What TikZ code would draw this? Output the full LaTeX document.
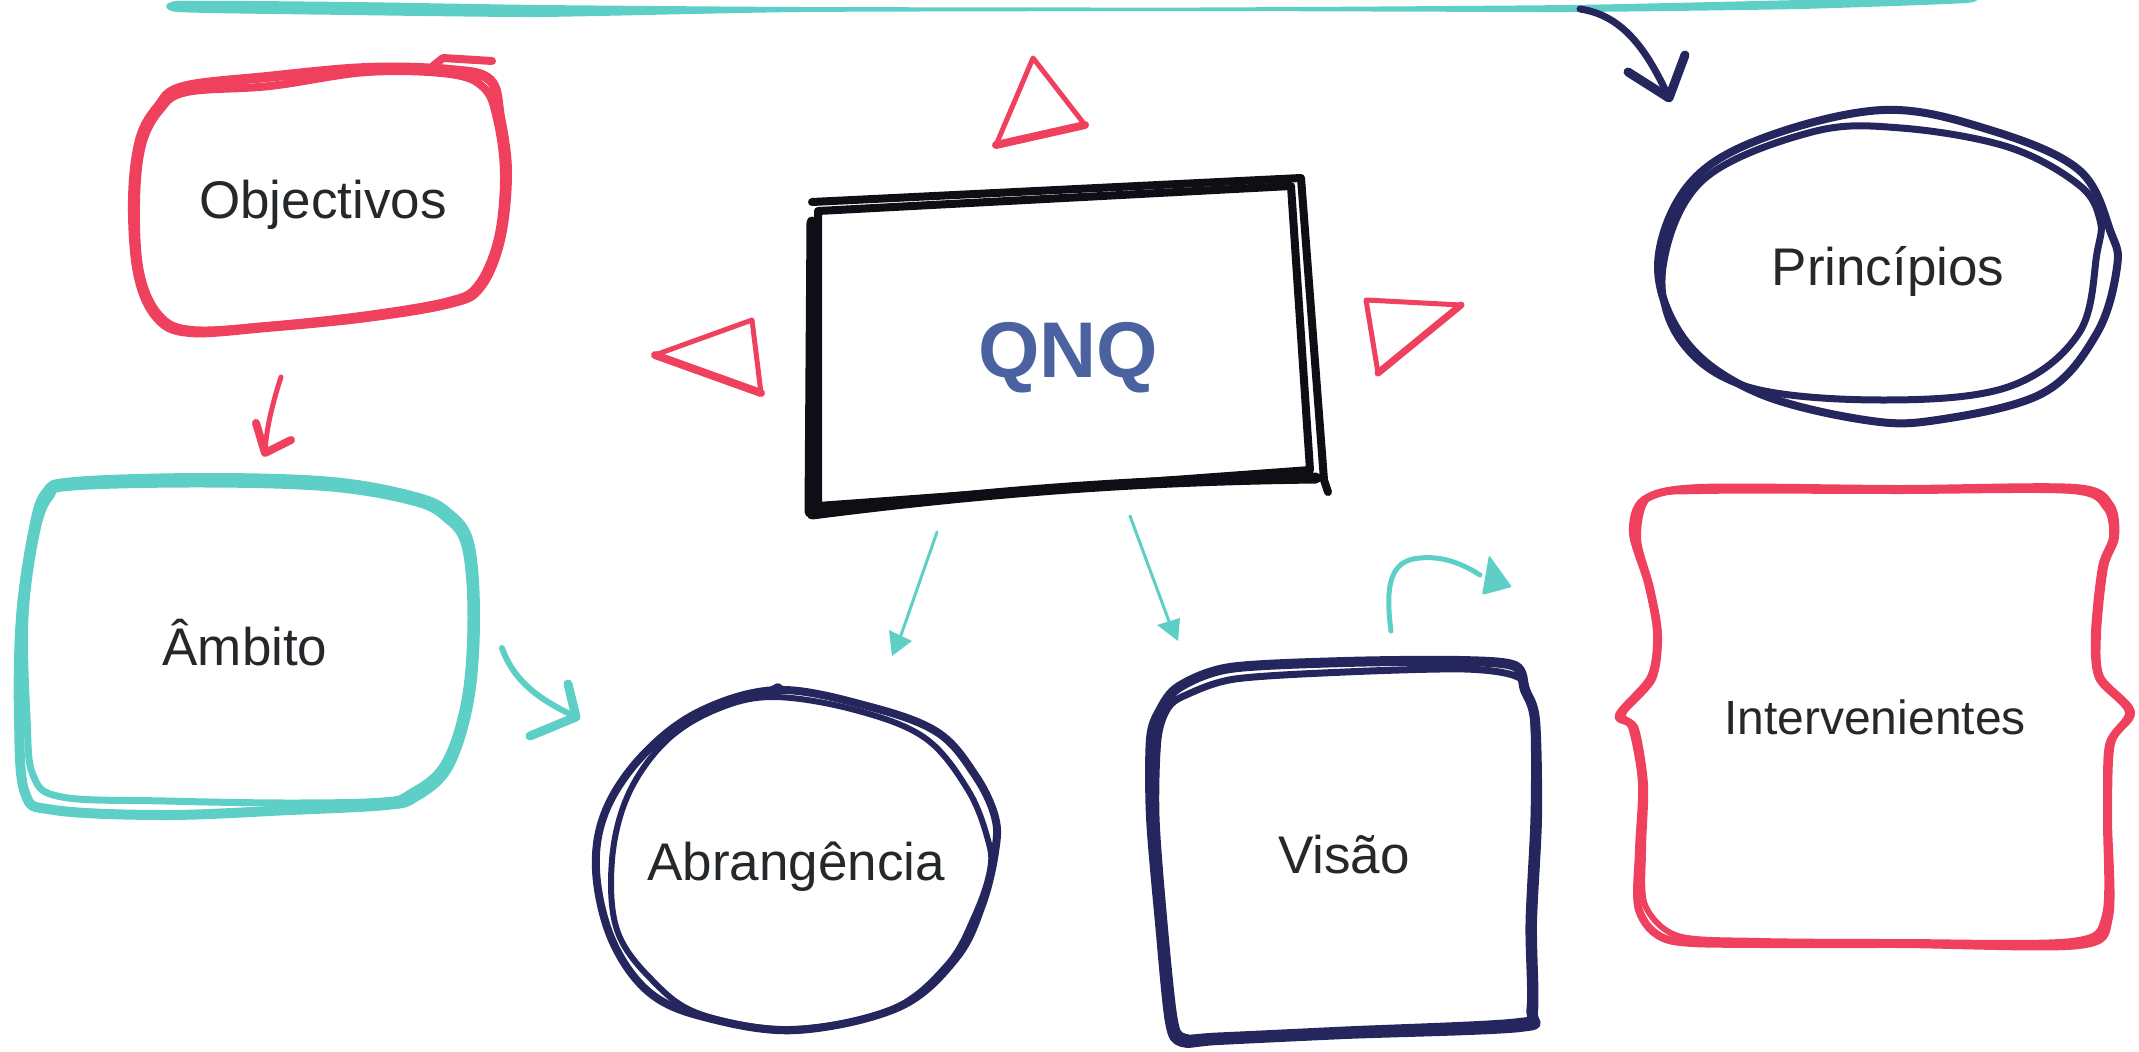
\documentclass[tikz,border=0pt]{standalone}
\usepackage{fontspec}
\setmainfont{Liberation Sans}
\definecolor{cRed}{RGB}{239,64,94}
\definecolor{cTeal}{RGB}{94,207,198}
\definecolor{cNavy}{RGB}{38,38,94}
\definecolor{cBlack}{RGB}{14,14,20}
\definecolor{cText}{RGB}{37,40,43}
\definecolor{cBlue}{RGB}{74,99,160}
\begin{document}
\begin{tikzpicture}[x=1pt,y=-1pt,
  brush/.style={line cap=round,line join=round},
  lbl/.style={text=cText,font=\fontsize{53}{60}\selectfont,inner sep=0pt,anchor=base},
]
\useasboundingbox (0,0) rectangle (2139,1052);

% ---------- top teal stroke ----------
\fill[cTeal] plot[smooth cycle,tension=0.3] coordinates {(177,1) (350,2) (540,5) (800,7) (1200,7.5) (1570,5) (1800,0) (1967,-4) (1967,3) (1800,9) (1570,12) (1200,11) (800,12) (540,17) (350,15) (177,12)};

% ---------- Objectivos ----------
\draw[brush,cRed,line width=10] plot[smooth cycle,tension=0.6] coordinates {(158,107) (140,140) (133,200) (138,273) (157,317) (190,332) (267,327) (367,317) (450,303) (480,287) (500,240) (507,173) (500,117) (490,80) (450,70) (367,68) (267,77) (183,87)};
\draw[brush,cRed,line width=8] plot[smooth cycle,tension=0.6] coordinates {(160,110) (142,145) (136,203) (140,272) (159,315) (192,330) (268,326) (368,315) (449,301) (478,285) (498,238) (504,174) (497,119) (484,88) (450,74) (367,72) (270,86) (187,92)};
\draw[brush,cRed,line width=8] (433,66) -- (443,58) -- (492,61);
\node[lbl] (obj) at (323,218) {Objectivos};

% ---------- Âmbito ----------
\draw[brush,cTeal,line width=10] plot[smooth cycle,tension=0.6] coordinates {(75,482) (207,478) (332,482) (415,497) (448,513) (469,543) (475,617) (469,700) (448,767) (415,797) (386,805) (290,810) (166,815) (54,810) (25,793) (19,717) (21,617) (33,533) (46,493)};
\draw[brush,cTeal,line width=7] plot[smooth cycle,tension=0.6] coordinates {(73,487) (207,484) (331,488) (413,502) (445,518) (465,546) (471,617) (465,700) (444,764) (410,793) (383,801) (290,803) (166,801) (62,797) (33,775) (27,717) (25,617) (36,534) (50,497)};
\node[lbl] (amb) at (245,665) {Âmbito};

% ---------- Abrangência ----------
\draw[brush,cNavy,line width=8] plot[smooth cycle,tension=0.6] coordinates {(778,690) (867,706) (937,732) (975,775) (995,817) (995,852) (982,905) (956,958) (899,1007) (797,1030) (708,1018) (650,993) (612,940) (596,870) (606,810) (644,754) (701,711)};
\draw[brush,cNavy,line width=6] plot[smooth cycle,tension=0.6] coordinates {(773,697) (855,710) (925,738) (968,790) (988,840) (990,870) (975,915) (947,965) (890,1010) (790,1029) (700,1014) (652,980) (617,930) (612,860) (628,795) (665,742) (715,710)};
\draw[brush,cNavy,line width=6] (765,693) -- (778,686) -- (783,690);
\node[lbl] (abr) at (796,880) {Abrangência};

% ---------- Visão ----------
\draw[brush,cNavy,line width=10] plot[smooth cycle,tension=0.5] coordinates {(1179,687) (1230,668) (1345,662) (1460,661) (1515,666) (1525,690) (1535,720) (1537,817) (1532,923) (1533,1011) (1520,1027) (1345,1034) (1218,1040) (1182,1042) (1170,1022) (1160,923) (1151,817) (1151,739) (1160,711)};
\draw[brush,cNavy,line width=7] plot[smooth cycle,tension=0.5] coordinates {(1186,695) (1235,679) (1345,672) (1465,669) (1518,677) (1529,700) (1534,725) (1534,817) (1529,923) (1530,1008) (1515,1022) (1345,1030) (1218,1036) (1184,1037) (1174,1018) (1164,923) (1156,817) (1158,739) (1168,708)};
\node[lbl] (vis) at (1344,873) {Visão};

% ---------- Princípios ----------
\draw[brush,cNavy,line width=8] plot[smooth cycle,tension=0.6] coordinates {(1658,267) (1687,187) (1758,140) (1883,110) (1990,130) (2079,170) (2111,233) (2117,267) (2097,333) (2043,393) (1937,420) (1865,420) (1758,393) (1687,343)};
\draw[brush,cNavy,line width=7] plot[smooth cycle,tension=0.6] coordinates {(1663,267) (1703,180) (1812,132) (1901,128) (2008,147) (2079,185) (2100,220) (2097,253) (2079,333) (2008,387) (1883,400) (1748,387) (1680,340)};
\node[lbl] (pri) at (1888,285) {Princípios};

% ---------- Intervenientes ----------
\draw[brush,cRed,line width=8] plot[smooth cycle,tension=0.5] coordinates {(1644,500) (1633,533) (1648,583) (1657,633) (1651,677) (1619,715) (1632,727) (1642,783) (1639,850) (1639,910) (1669,940) (1760,944) (1900,944) (2079,945) (2109,917) (2108,817) (2111,743) (2131,712) (2100,677) (2097,633) (2104,567) (2115,537) (2110,505) (2075,488) (1900,489) (1700,488)};
\draw[brush,cRed,line width=6] plot[smooth cycle,tension=0.5] coordinates {(1649,497) (1638,538) (1651,588) (1659,635) (1653,679) (1623,714) (1636,729) (1645,785) (1643,850) (1645,905) (1678,936) (1760,941) (1900,942) (2072,941) (2105,915) (2106,817) (2108,745) (2128,712) (2098,678) (2094,633) (2101,567) (2112,537) (2106,508) (2072,491) (1900,491) (1700,491)};
\node[lbl,font=\fontsize{48}{56}\selectfont] (int) at (1875,734) {Intervenientes};

% ---------- QNQ ----------
\draw[brush,cBlack,line width=8] (818,211) -- (1291,186) -- (1310,470) -- (818,506) -- cycle;
\draw[brush,cBlack,line width=8] (812,202) -- (1301,178) -- (1324,480) -- (1328,492);
\draw[brush,cBlack,line width=11] (812,222) -- (810,512);
\draw[brush,cBlack,line width=11] (812,514) .. controls (1000,490) and (1150,480) .. (1316,478);
\node[inner sep=0pt,anchor=base,text=cBlue,font=\fontsize{79}{90}\selectfont\bfseries] (qnq) at (1068,377) {QNQ};

% ---------- red triangles ----------
\draw[brush,cRed,line width=5] (1033,58) -- (1085,125) -- (996,145) -- cycle;
\draw[brush,cRed,line width=8] (996,145) -- (1085,125);
\draw[brush,cRed,line width=5] (655,355) -- (752,320) -- (761,393) -- cycle;
\draw[brush,cRed,line width=8] (655,355) -- (761,393);
\draw[brush,cRed,line width=5] (1366,300) -- (1461,305) -- (1378,373) -- cycle;
\draw[brush,cRed,line width=7] (1461,305) -- (1378,373);

% ---------- arrows ----------
% navy from top stroke to Princípios
\coordinate (nS) at (1580,9);
\coordinate (nT) at (1669,98);
\coordinate (nB1) at (1628,72);
\coordinate (nB2) at (1685,55);
\draw[brush,cNavy,line width=7] (nS) .. controls (1620,15) and (1645,45) .. (nT);
\draw[brush,cNavy,line width=9] (nB1) -- (nT) -- (nB2);

% red below Objectivos
\coordinate (rS) at (281,377);
\coordinate (rT) at (265,453);
\coordinate (rB1) at (256,423);
\coordinate (rB2) at (291,440);
\draw[brush,cRed,line width=5] (rS) .. controls (272,405) and (266,430) .. (rT);
\draw[brush,cRed,line width=8] (rB1) -- (rT) -- (rB2);

% teal from Âmbito
\coordinate (tS) at (502,648);
\coordinate (tT) at (576,717);
\coordinate (tB1) at (568,684);
\coordinate (tB2) at (530,736);
\draw[brush,cTeal,line width=6] (tS) .. controls (515,685) and (545,702) .. (tT);
\draw[brush,cTeal,line width=9] (tB1) -- (tT) -- (tB2);

% teal from QNQ (left)
\coordinate (qlS) at (937,532);
\coordinate (qlE) at (900,638);
\draw[brush,cTeal,line width=3] (qlS) -- (qlE);
\fill[cTeal] (889,630) -- (912,641) -- (892,656) -- cycle;

% teal from QNQ (right)
\coordinate (qrS) at (1130,516);
\coordinate (qrE) at (1170,624);
\draw[brush,cTeal,line width=3] (qrS) -- (qrE);
\fill[cTeal] (1157,625) -- (1180,618) -- (1178,641) -- cycle;

% teal curved above Visão
\coordinate (cS) at (1391,631);
\coordinate (cE) at (1480,575);
\draw[brush,cTeal,line width=5] (cS) .. controls (1385,585) and (1390,560) .. (1420,558) .. controls (1440,556) and (1460,562) .. (cE);
\fill[cTeal,rounded corners=2pt] (1489,555) -- (1512,587) -- (1482,595) -- cycle;
\end{tikzpicture}
\end{document}
